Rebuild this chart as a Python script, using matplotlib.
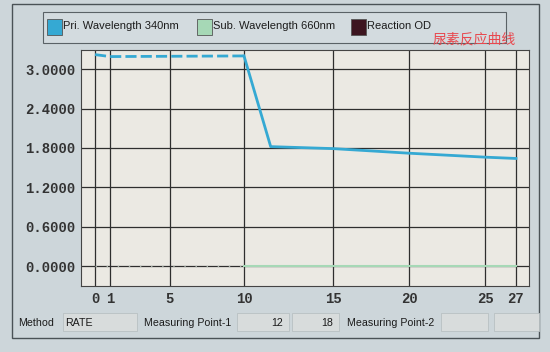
import matplotlib
matplotlib.use("Agg")
import numpy as np
import matplotlib.pyplot as plt
from matplotlib.patches import Rectangle

# readings off the instrument screen
pri_dash_x = [0, 1, 10]
pri_dash_y = [3.22, 3.19, 3.20]
pri_x = [10, 11.5, 15, 20, 25, 27]
pri_y = [3.20, 1.82, 1.79, 1.72, 1.66, 1.64]
sub_x = [10, 27]
sub_y = [0.0, 0.0]
sub_dot_x = [0, 10]
sub_dot_y = [0.0, 0.0]

x_ticks = [0, 1, 5, 10, 15, 20, 25, 27]
y_ticks = [0.0, 0.6, 1.2, 1.8, 2.4, 3.0]
legend_names = ["Pri. Wavelength 340nm", "Sub. Wavelength 660nm", "Reaction OD"]
legend_colors = ["#35a9d3", "#a6d8b6", "#3d1520"]
title_cn = "尿素反应曲线"

# the instrument's time axis is not evenly spaced, piecewise scale
scale_x = [-10, 0, 1, 5, 10, 15, 20, 25, 27, 37]
scale_px = [-55, 95, 110, 170, 244, 333, 409, 485, 516, 671]


def fwd(v):
    return np.interp(v, scale_x, scale_px)


def inv(v):
    return np.interp(v, scale_px, scale_x)


ui_font = "Liberation Sans"
txt_col = "#1c1c1c"

fig = plt.figure(figsize=(5.5, 3.52), dpi=100)
fig.patch.set_facecolor("#cdd6da")

# outer panel frame
fig.add_artist(Rectangle((12 / 550, 1 - 338 / 352), 527 / 550, 334 / 352,
                         transform=fig.transFigure, fill=False, ec="#4a5256", lw=1))

ax = fig.add_axes([81 / 550, 1 - 286 / 352, 448 / 550, 236 / 352])
ax.set_facecolor("#ebe9e3")
ax.set_xscale("function", functions=(fwd, inv))

ax.plot(pri_dash_x, pri_dash_y, color=legend_colors[0], lw=2, ls=(0, (4, 1.5)))
ax.plot(pri_x, pri_y, color=legend_colors[0], lw=2)
ax.plot(sub_dot_x, sub_dot_y, color="#a9b3ab", lw=1, ls=(0, (1, 7)))
ax.plot(sub_x, sub_y, color=legend_colors[1], lw=1.5)

ax.set_xlim(inv(81), inv(529))
ax.set_ylim(-0.30, 3.29)
ax.set_xticks(x_ticks)
ax.set_yticks(y_ticks)
ax.set_xticklabels([str(t) for t in x_ticks], family="Liberation Mono",
                   fontweight="bold", fontsize=10, color="#333333")
ax.set_yticklabels(["%.4f" % t for t in y_ticks], family="Liberation Mono",
                   fontweight="bold", fontsize=10, color="#333333")
ax.xaxis.set_minor_locator(plt.NullLocator())
ax.tick_params(length=0, pad=4)
ax.grid(True, color="#2e2e2e", lw=0.9)
ax.set_axisbelow(True)
for s in ax.spines.values():
    s.set_color("#444444")
    s.set_linewidth(0.8)

# legend bar
fig.add_artist(Rectangle((43 / 550, 1 - 43 / 352), 463 / 550, 31 / 352,
                         transform=fig.transFigure, fc="#d3dbdf", ec="#5a6266", lw=0.8))
leg_x = [47, 197, 351]
for lx, name, c in zip(leg_x, legend_names, legend_colors):
    fig.add_artist(Rectangle((lx / 550, 1 - 35 / 352), 15 / 550, 16 / 352,
                             transform=fig.transFigure, fc=c, ec="#555555", lw=0.6))
    fig.text((lx + 16) / 550, 1 - 26 / 352, name, family=ui_font, fontsize=8,
             va="center", color=txt_col)
fig.text(433 / 550, 1 - 39 / 352, title_cn, family=["Noto Sans CJK SC", "DejaVu Sans"],
         fontsize=10, color="#e8484e", va="center")

# bottom status row
row_y = 1 - 323 / 352
fig.text(18 / 550, row_y, "Method", family=ui_font, fontsize=7.7, va="center",
         color=txt_col)
boxes = [(63, 137, "RATE", "left"), (237, 289, "12", "right"),
         (292, 339, "18", "right"), (441, 488, "", "left"), (494, 539, "", "left")]
for x0, x1, txt, ha in boxes:
    fig.add_artist(Rectangle((x0 / 550, 1 - 331 / 352), (x1 - x0) / 550, 18 / 352,
                             transform=fig.transFigure, fc="#d8dcdc", ec="#b8c0c2", lw=0.6))
    if txt:
        tx = (x0 + 2) / 550 if ha == "left" else (x1 - 6) / 550
        fig.text(tx, row_y, txt, family=ui_font, fontsize=7.7, va="center", ha=ha,
                 color=txt_col)
fig.text(144 / 550, row_y, "Measuring Point-1", family=ui_font, fontsize=7.7,
         va="center", color=txt_col)
fig.text(347 / 550, row_y, "Measuring Point-2", family=ui_font, fontsize=7.7,
         va="center", color=txt_col)

fig.savefig("out.png", dpi=100, facecolor=fig.get_facecolor())
